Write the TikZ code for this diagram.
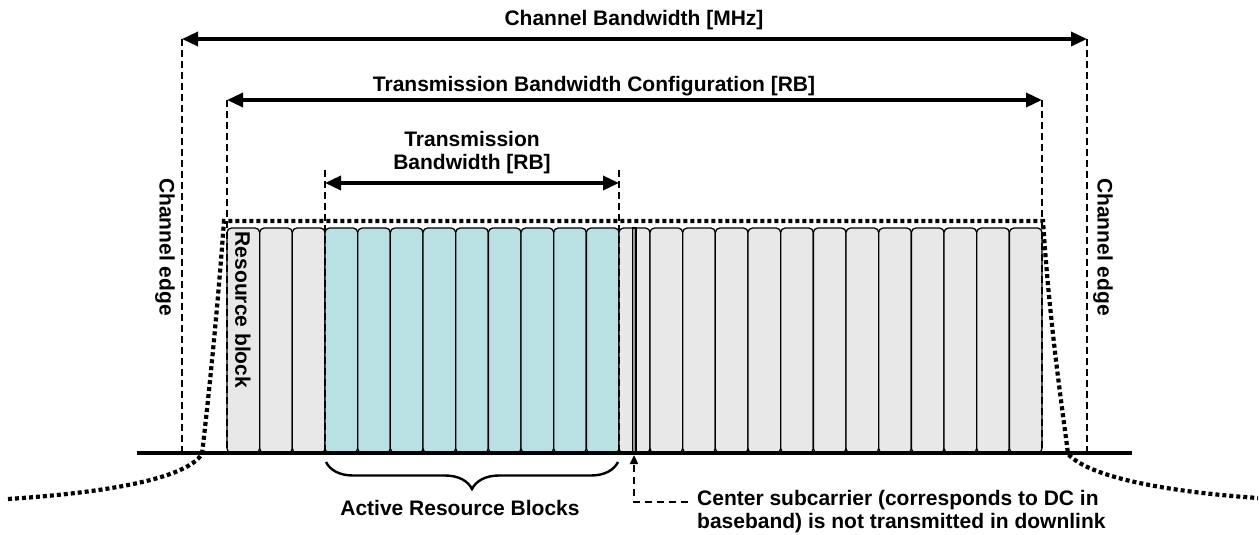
\documentclass[tikz,border=0pt]{standalone}
\usepackage{fontspec}
\setmainfont{Liberation Sans}
\usetikzlibrary{arrows.meta,decorations.pathreplacing}
\definecolor{rbgray}{HTML}{E8E8E8}
\definecolor{rbteal}{HTML}{B9E0E2}
\definecolor{dcgray}{HTML}{9A9A9A}
\begin{document}
\begin{tikzpicture}[x=1pt,y=-1pt,
  rb/.style={draw=black,line width=1.3pt,rounded corners=4.5pt},
  edgeline/.style={line width=2.6pt,dash pattern=on 7pt off 4pt},
  mask/.style={line width=4.2pt,dash pattern=on 4pt off 3pt},
  dim/.style={line width=3.4pt,{Triangle[length=16pt,width=14pt]}-{Triangle[length=16pt,width=14pt]}},
  lbl/.style={font=\fontsize{21}{23}\selectfont\bfseries,inner sep=0pt,align=center}]
\useasboundingbox (0,0) rectangle (1259,535);
% resource blocks
\foreach \i in {0,1,2} \draw[rb,fill=rbgray] ({227+\i*32.67},228) rectangle ++(32.67,225);
\foreach \i in {0,...,8} \draw[rb,fill=rbteal] ({325+\i*32.67},228) rectangle ++(32.67,225);
\draw[rb,fill=rbgray] (619,228) rectangle (650,453);
\draw[line width=1.3pt,fill=dcgray] (632.5,228) rectangle (636,453);
\foreach \i in {0,...,11} \draw[rb,fill=rbgray] ({650+\i*32.67},228) rectangle ++(32.67,225);
% coordinates
\coordinate (cbL) at (182,39);  \coordinate (cbLb) at (182,453);
\coordinate (cbR) at (1087,39); \coordinate (cbRb) at (1087,453);
\coordinate (tcL) at (227,100); \coordinate (tcLb) at (227,453);
\coordinate (tcR) at (1042,100); \coordinate (tcRb) at (1042,453);
\coordinate (tbL) at (325,170); \coordinate (tbLb) at (325,453);
\coordinate (tbR) at (619,170); \coordinate (tbRb) at (619,453);
\coordinate (tbLa) at (325,183); \coordinate (tbRa) at (619,183);
\coordinate (blL) at (137,453); \coordinate (blR) at (1132,453);
% dashed edges
\draw[edgeline] (cbL) -- (cbLb);
\draw[edgeline] (cbR) -- (cbRb);
\draw[edgeline] (tcL) -- (tcLb);
\draw[edgeline] (tcR) -- (tcRb);
\draw[edgeline] (tbL) -- (tbLb);
\draw[edgeline] (tbR) -- (tbRb);
% dimension arrows
\draw[dim] (cbL) -- (cbR);
\draw[dim] (tcL) -- (tcR);
\draw[dim] (tbLa) -- (tbRa);
% spectrum mask
\draw[mask] (8,499) .. controls (100,493) and (185,480) .. (202,454) .. controls (206,420) and (216,330) .. (224,221) -- (1043,221) .. controls (1050,330) and (1064,420) .. (1068,454) .. controls (1090,478) and (1170,492) .. (1258,498);
% baseline
\draw[line width=3.4pt] (blL) -- (blR);
% brace
\draw[line width=2.4pt,decorate,decoration={brace,mirror,amplitude=27pt,aspect=0.5}] (326,462) -- (618,462);
% center subcarrier pointer
\coordinate (dc) at (634,455); \coordinate (dcb) at (634,502); \coordinate (dce) at (688,502);
\draw[line width=2.8pt,dash pattern=on 7pt off 5pt,-{Triangle[length=9pt,width=8pt]}] (dce) -- (dcb) -- (dc);
% labels
\node[lbl] (tcb) at (634,20) {Channel Bandwidth [MHz]};
\node[lbl] (ttbc) at (594,86) {Transmission Bandwidth Configuration [RB]};
\node[lbl] (ttb) at (472,153) {Transmission\\Bandwidth [RB]};
\node[lbl,rotate=-90] (ceL) at (165,247) {Channel edge};
\node[lbl,rotate=-90] (ceR) at (1103,247) {Channel edge};
\node[lbl,rotate=-90] (rbl) at (243,310) {Resource block};
\node[lbl] (arb) at (460,508) {Active Resource Blocks};
\node[lbl,anchor=west,align=left] (cs) at (697,511.5) {Center subcarrier (corresponds to DC in\\baseband) is not transmitted in downlink};
\end{tikzpicture}
\end{document}
